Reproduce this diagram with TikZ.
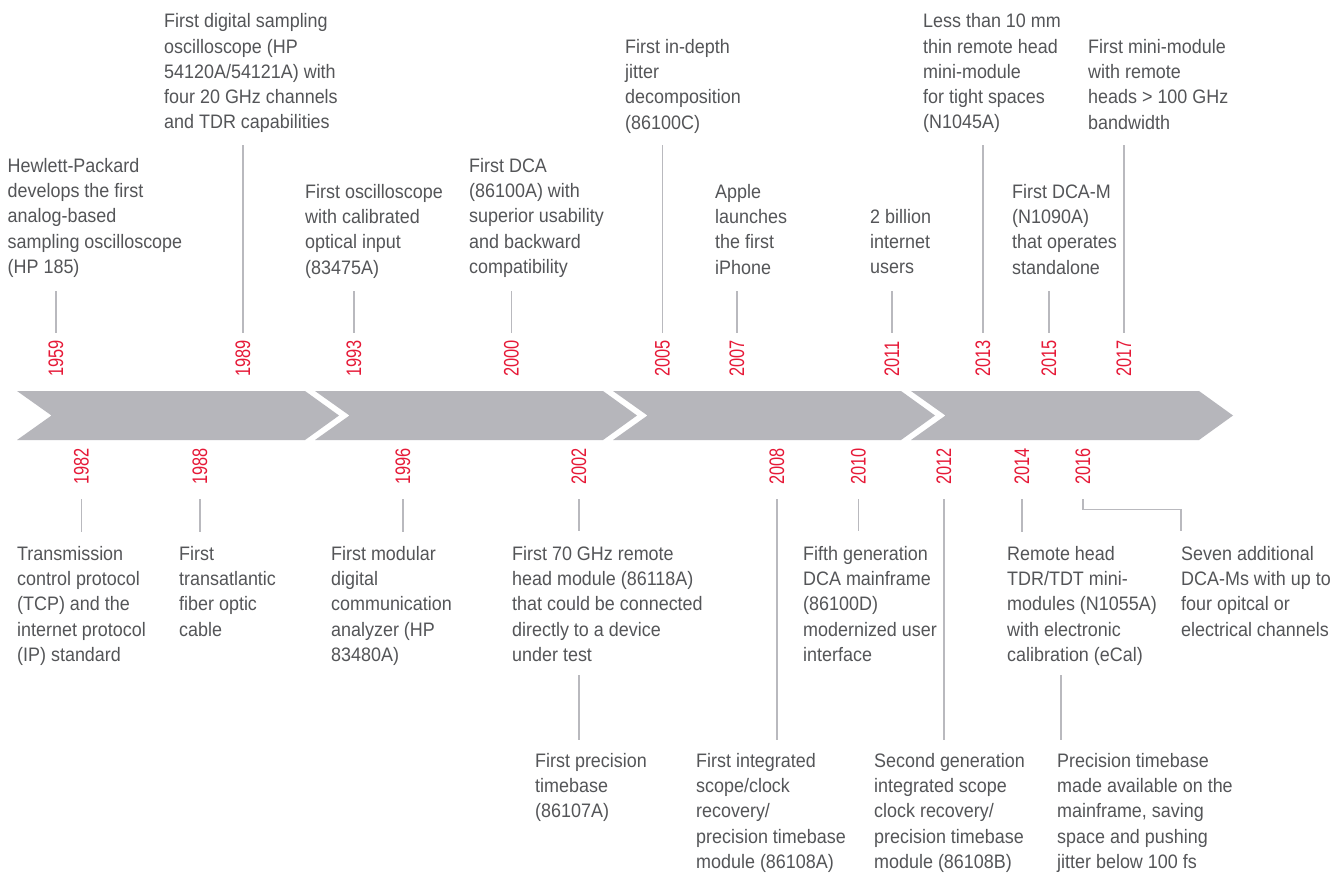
\documentclass[tikz,border=0pt]{standalone}
\usepackage{fontspec}
\setmainfont{Liberation Sans}[FakeStretch=0.92]
\newfontfamily\yearfont{Liberation Sans}[FakeStretch=0.78]
\definecolor{band}{RGB}{182,182,187}
\definecolor{lgray}{RGB}{185,185,190}
\definecolor{tgray}{RGB}{84,85,88}
\definecolor{yred}{RGB}{230,25,55}
\newcommand{\fst}{\rule{0pt}{15pt}}
\tikzset{
  yr/.style={font=\yearfont\fontsize{21}{21}\selectfont, text=yred, inner sep=0pt, rotate=90},
  yrtop/.style={yr, anchor=west},
  yrbot/.style={yr, anchor=east},
  ev/.style={font=\fontsize{19.5}{25.3}\selectfont, text=tgray, inner sep=0pt, align=left, anchor=north west},
  tick/.style={draw=lgray, line width=1.3pt},
  seg/.style={fill=band, draw=none},
}
\begin{document}
\begin{tikzpicture}[x=1pt,y=-1pt]
\useasboundingbox (0,0) rectangle (1344,873);
\fill[white] (0,0) rectangle (1344,873);

% band segments
\foreach \s in {0,298,596,894}{
  \path[seg] (17+\s,391) -- (305+\s,391) -- (339+\s,415.5) -- (305+\s,440)
     -- (17+\s,440) -- (51.5+\s,415.5) -- cycle;
}

% year labels above
\foreach \x/\yy in {56/1959,243/1989,354/1993,511.5/2000,662.5/2005,737/2007,892/2011,983/2013,1049/2015,1124/2017}{
  \node[yrtop] (y\yy) at (\x,377) {\yy};
}
% year labels below
\foreach \x/\yy in {81.5/1982,200/1988,403/1996,579/2002,777/2008,858.5/2010,944/2012,1022/2014,1083/2016}{
  \node[yrbot] (y\yy) at (\x,448) {\yy};
}

% tick lines above
\foreach \x/\ya [count=\i] in {56/291,243/145,354/291,511.5/291,662.5/145,737/291,892/291,983/145,1049/291,1124/145}{
  \coordinate (ta\i) at (\x,\ya);
  \coordinate (tb\i) at (\x,333);
  \draw[tick] (ta\i) -- (tb\i);
}
% tick lines below
\foreach \x/\yb [count=\i] in {81.5/532,200/532,403/532,579/531,777/740,858.5/531,944/740,1022/532}{
  \coordinate (ba\i) at (\x,499);
  \coordinate (bb\i) at (\x,\yb);
  \draw[tick] (ba\i) -- (bb\i);
}
\coordinate (c2a) at (579,675); \coordinate (c2b) at (579,740);
\draw[tick] (c2a) -- (c2b);
\coordinate (c14a) at (1061,675); \coordinate (c14b) at (1061,740);
\draw[tick] (c14a) -- (c14b);
\coordinate (c16a) at (1083,499); \coordinate (c16b) at (1181,531);
\draw[tick] (c16a) |- (1132,509.5) -| (c16b);

% events above
\node[ev] (eA) at (7.5,157) {\fst Hewlett-Packard\\develops the first\\analog-based\\sampling oscilloscope\\(HP 185)};
\node[ev] (eB) at (164,12.5) {\fst First digital sampling\\oscilloscope (HP\\54120A/54121A) with\\four 20 GHz channels\\and TDR capabilities};
\node[ev] (eC) at (305,183) {\fst First oscilloscope\\with calibrated\\optical input\\(83475A)};
\node[ev] (eD) at (469,157) {\fst First DCA\\(86100A) with\\superior usability\\and backward\\compatibility};
\node[ev] (eE) at (625,38) {\fst First in-depth\\jitter\\decomposition\\(86100C)};
\node[ev] (eF) at (715,183) {\fst Apple\\launches\\the first\\iPhone};
\node[ev] (eG) at (870,208) {\fst 2 billion\\internet\\users};
\node[ev] (eH) at (923,12.5) {\fst Less than 10 mm\\thin remote head\\mini-module\\for tight spaces\\(N1045A)};
\node[ev] (eI) at (1012,183) {\fst First DCA-M\\(N1090A)\\that operates\\standalone};
\node[ev] (eJ) at (1088,38) {\fst First mini-module\\with remote\\heads > 100 GHz\\bandwidth};

% events below
\node[ev] (eK) at (17,545) {\fst Transmission\\control protocol\\(TCP) and the\\internet protocol\\(IP) standard};
\node[ev] (eL) at (179,545) {\fst First\\transatlantic\\fiber optic\\cable};
\node[ev] (eM) at (331,545) {\fst First modular\\digital\\communication\\analyzer (HP\\83480A)};
\node[ev] (eN) at (512,545) {\fst First 70 GHz remote\\head module (86118A)\\that could be connected\\directly to a device\\under test};
\node[ev] (eO) at (535,752) {\fst First precision\\timebase\\(86107A)};
\node[ev] (eP) at (696,752) {\fst First integrated\\scope/clock\\recovery/\\precision timebase\\module (86108A)};
\node[ev] (eQ) at (803,545) {\fst Fifth generation\\DCA mainframe\\(86100D)\\modernized user\\interface};
\node[ev] (eR) at (874,752) {\fst Second generation\\integrated scope\\clock recovery/\\precision timebase\\module (86108B)};
\node[ev] (eS) at (1007,545) {\fst Remote head\\TDR/TDT mini-\\modules (N1055A)\\with electronic\\calibration (eCal)};
\node[ev] (eT) at (1057,752) {\fst Precision timebase\\made available on the\\mainframe, saving\\space and pushing\\jitter below 100 fs};
\node[ev] (eU) at (1181,545) {\fst Seven additional\\DCA-Ms with up to\\four opitcal or\\electrical channels};
\end{tikzpicture}
\end{document}
